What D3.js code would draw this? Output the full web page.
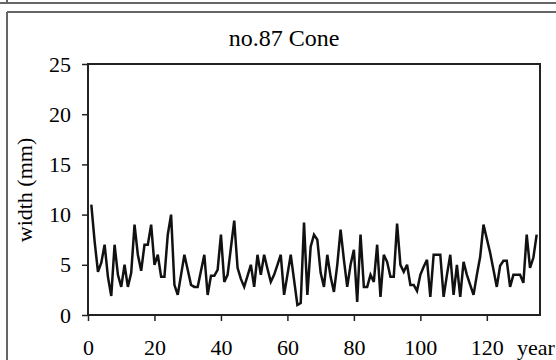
<!DOCTYPE html>
<html><head><meta charset="utf-8">
<script src="https://cdn.jsdelivr.net/npm/d3@7"></script>
<style>body{margin:0;background:#fff}svg{display:block}</style>
</head><body><svg id="c" width="556" height="360"></svg>
<script>
const title = "no.87 Cone";
const yLabel = "width (mm)";
const xLabel = "year";
const xTicks = [0, 20, 40, 60, 80, 100, 120];
const yTicks = [0, 5, 10, 15, 20, 25];
const years = d3.range(1, 136);
const widths = [
  11, 7.3, 4.3, 5.2, 7, 3.8, 1.9, 7, 4, 2.8,
  5, 2.8, 4.2, 9, 6, 4.4, 7, 7, 9, 5,
  6, 3.8, 3.8, 8, 10, 3, 2, 4, 6, 4.5,
  3, 2.8, 2.8, 4.4, 6, 2, 3.9, 3.9, 4.5, 8,
  3.3, 4, 6.7, 9.4, 4.7, 3.6, 2.8, 3.9, 5, 2.8,
  6, 4, 6, 4.6, 3.3, 4, 5, 6, 2, 4,
  6, 3.5, 1, 1.2, 9.2, 2, 6.8, 8, 7.5, 4.2,
  2.8, 6, 3.8, 2.3, 5, 8.5, 5.5, 2.8, 5, 6.5,
  1.3, 8, 2.8, 2.8, 4, 3.3, 7, 1.8, 6, 5.3,
  3.8, 3.8, 9.1, 5, 4.3, 5, 3, 3, 2.4, 4,
  4.8, 5.5, 1.8, 6, 6, 6, 1.8, 4, 6, 2,
  5, 1.8, 5.3, 4, 3, 2, 4, 5.8, 9, 7.6,
  6.2, 4.5, 2.8, 4.9, 5.4, 5.4, 2.8, 4, 4, 4,
  3.2, 8, 4.7, 5.7, 8
];

const svg = d3.select("#c");
const font = "'Liberation Serif','Times New Roman',serif";
const ink = "#222";

svg.append("rect").attr("width", 556).attr("height", 360).attr("fill", "#fff");

// scanned panel borders
svg.append("line").attr("x1", 0).attr("x2", 556).attr("y1", 3).attr("y2", 3)
  .attr("stroke", "#666").attr("stroke-width", 2);
svg.append("line").attr("x1", 7).attr("x2", 7).attr("y1", 0).attr("y2", 3)
  .attr("stroke", "#666").attr("stroke-width", 2);
svg.append("line").attr("x1", 7).attr("x2", 556).attr("y1", 12).attr("y2", 12)
  .attr("stroke", "#666").attr("stroke-width", 2);
svg.append("line").attr("x1", 7).attr("x2", 7).attr("y1", 12).attr("y2", 360)
  .attr("stroke", "#666").attr("stroke-width", 2);

const x = d3.scaleLinear().domain([0, 136]).range([88, 540]);
const y = d3.scaleLinear().domain([0, 25]).range([315, 64]);

// y axis
const gy = svg.append("g").attr("transform", "translate(88,0)")
  .call(d3.axisLeft(y).tickValues(yTicks).tickSize(6).tickPadding(11));
gy.select(".domain").remove();
gy.selectAll(".tick line").attr("stroke", ink).attr("stroke-width", 1.5);
gy.selectAll(".tick text").attr("font-family", font).attr("font-size", 22).attr("fill", "#000");

// x axis
const gx = svg.append("g").attr("transform", "translate(0,315)")
  .call(d3.axisBottom(x).tickValues(xTicks).tickSize(6));
gx.select(".domain").remove();
gx.selectAll(".tick line").attr("stroke", ink).attr("stroke-width", 1.5);
gx.selectAll(".tick text").attr("font-family", font).attr("font-size", 22).attr("fill", "#000")
  .attr("y", 32).attr("dy", "0.35em");

// plot frame
svg.append("rect").attr("x", x(0)).attr("y", y(25))
  .attr("width", x(136) - x(0)).attr("height", y(0) - y(25))
  .attr("fill", "none").attr("stroke", ink).attr("stroke-width", 2);

// data line
const line = d3.line().x((d, i) => x(years[i])).y(d => y(d));
svg.append("path").datum(widths).attr("d", line)
  .attr("fill", "none").attr("stroke", "#111").attr("stroke-width", 2.5)
  .attr("stroke-linejoin", "miter").attr("stroke-miterlimit", 3);

// titles
svg.append("text").attr("x", 284).attr("y", 38).attr("text-anchor", "middle")
  .attr("dominant-baseline", "central")
  .attr("font-family", font).attr("font-size", 24).text(title);
svg.append("text").attr("transform", "translate(24,190) rotate(-90)")
  .attr("text-anchor", "middle").attr("dominant-baseline", "central")
  .attr("font-family", font).attr("font-size", 22).text(yLabel);
svg.append("text").attr("x", 517).attr("y", 347).attr("dominant-baseline", "central")
  .attr("font-family", font).attr("font-size", 22).text(xLabel);
</script></body></html>
